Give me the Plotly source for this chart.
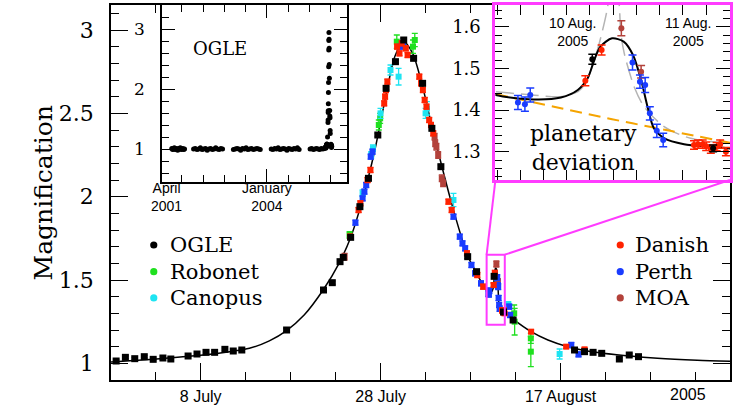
import plotly.graph_objects as go

# Time axis: HJD - 2450000 throughout.

# ---------------- model light curve (knots) ----------------
model_t = [3549.53, 3551.65, 3554.96, 3559.50, 3562.71, 3564.92, 3567.13, 3569.01,
           3571.00, 3573.11, 3574.88, 3576.20, 3577.53, 3578.86, 3580.18, 3581.07,
           3582.07, 3583.06, 3584.17, 3585.16, 3586.27, 3587.60, 3589.15, 3590.36,
           3591.29, 3591.57, 3591.85, 3591.995, 3592.08, 3592.137, 3592.19, 3592.29,
           3592.39, 3592.47, 3592.54, 3592.595, 3592.65, 3592.74, 3592.91, 3593.14,
           3593.29, 3594.23, 3596.23, 3598.10, 3600.30, 3603.64, 3606.96, 3610.28,
           3614.70, 3618.34]
model_a = [1.008, 1.015, 1.028, 1.048, 1.070, 1.090, 1.135, 1.195,
           1.290, 1.440, 1.600, 1.760, 1.990, 2.280, 2.630, 2.840,
           2.930, 2.860, 2.660, 2.430, 2.190, 1.920, 1.650, 1.520,
           1.436, 1.426, 1.430, 1.448, 1.476, 1.520, 1.552, 1.572,
           1.564, 1.532, 1.472, 1.408, 1.356, 1.332, 1.318, 1.312,
           1.308, 1.265, 1.190, 1.140, 1.100, 1.065, 1.045, 1.030,
           1.018, 1.012]

# single-lens curve without the planet (zoom panel)
nopl_t = [3591.29, 3591.79, 3592.29, 3592.79, 3593.31]
nopl_a = [1.438, 1.408, 1.378, 1.350, 1.321]

# alternative high-peak curve (zoom panel)
alt_t = [3591.29, 3591.60, 3591.85, 3592.00, 3592.05, 3592.10, 3592.17, 3592.24,
         3592.27, 3592.31, 3592.352, 3592.366, 3592.395, 3592.48, 3592.566,
         3592.738, 3592.966, 3593.31]
alt_a = [1.444, 1.436, 1.432, 1.445, 1.460, 1.490, 1.550, 1.630,
         1.680, 1.760, 1.652, 1.584, 1.536, 1.456, 1.408,
         1.360, 1.332, 1.320]

# ---------------- photometry ----------------
ogle_t = [3550.10, 3551.13, 3552.17, 3553.23, 3554.22, 3555.30, 3556.18, 3558.10,
          3559.09, 3560.09, 3561.05, 3562.19, 3563.12, 3564.07, 3569.05, 3573.15,
          3574.13, 3574.99, 3575.35, 3576.17, 3577.20, 3578.15, 3579.19, 3580.11,
          3581.15, 3582.07, 3583.17, 3584.17, 3585.20, 3586.20, 3589.18, 3590.17,
          3592.12, 3593.16, 3594.23, 3601.06, 3602.17, 3603.12, 3604.08, 3606.04,
          3607.14, 3608.17]
ogle_a = [1.014, 1.036, 1.028, 1.040, 1.024, 1.032, 1.026, 1.044,
          1.056, 1.066, 1.066, 1.084, 1.074, 1.080, 1.200, 1.440,
          1.484, 1.610, 1.636, 1.756, 1.940, 2.110, 2.370, 2.650,
          2.810, 2.940, 2.830, 2.680, 2.410, 2.180, 1.640, 1.550,
          1.522, 1.308, 1.260, 1.080, 1.070, 1.066, 1.060, 1.026,
          1.050, 1.040]
ogle_e = [0.008] * 14 + [0.010] * 18 + [0.012, 0.008] + [0.008] * 8

danish_t = [3576.10, 3577.05, 3577.25, 3578.05, 3578.37, 3579.90, 3580.00, 3580.10,
            3580.25, 3581.33, 3581.60, 3581.85, 3582.30, 3582.50, 3583.80, 3584.00,
            3584.20, 3584.40, 3584.60, 3584.90, 3585.10, 3585.35, 3587.04, 3587.40,
            3589.10, 3590.25, 3590.90, 3592.06, 3592.20, 3592.995, 3593.03, 3593.07,
            3593.10, 3593.14, 3593.19, 3593.22, 3593.27, 3596.23, 3600.13, 3602.17]
danish_a = [1.760, 1.920, 1.960, 2.100, 2.160, 2.560, 2.600, 2.640,
            2.690, 2.900, 2.860, 2.920, 2.890, 2.850, 2.720, 2.680,
            2.640, 2.580, 2.540, 2.460, 2.430, 2.380, 1.970, 1.920,
            1.660, 1.530, 1.460, 1.470, 1.544, 1.316, 1.318, 1.318,
            1.313, 1.306, 1.312, 1.318, 1.300, 1.190, 1.100, 1.084]
danish_e = [0.015] * 27 + [0.012, 0.012] + [0.010] * 8 + [0.012, 0.010, 0.010]

perth_t = [3576.70, 3577.50, 3577.70, 3577.90, 3578.40, 3578.60, 3581.70, 3582.00,
           3587.60, 3588.30, 3588.60, 3588.90, 3589.60, 3590.00, 3590.66, 3591.48,
           3591.54, 3591.586, 3592.466, 3592.53, 3592.575, 3592.615, 3592.675, 3592.73,
           3593.80, 3593.90, 3600.70, 3601.50]
perth_a = [1.844, 1.990, 2.030, 2.070, 2.240, 2.270, 2.900, 2.920,
           1.880, 1.760, 1.720, 1.690, 1.590, 1.540, 1.480, 1.418,
           1.414, 1.436, 1.514, 1.468, 1.460, 1.392, 1.350, 1.328,
           1.340, 1.290, 1.110, 1.054]
perth_e = [0.015] * 15 + [0.017, 0.017, 0.017, 0.018, 0.016, 0.018, 0.016, 0.016, 0.016] + [0.015] * 4

moa_t = [3575.50, 3585.50, 3585.57, 3585.70, 3585.90, 3586.30, 3586.45, 3592.37, 3592.54]
moa_a = [1.640, 2.360, 2.320, 2.300, 2.250, 2.110, 2.080, 1.596, 1.492]
moa_e = [0.020, 0.020, 0.020, 0.020, 0.020, 0.020, 0.020, 0.018, 0.015]

robonet_t = [3576.05, 3579.30, 3579.45, 3581.30, 3583.10, 3583.30, 3594.35, 3594.40, 3596.20, 3596.20]
robonet_a = [1.770, 2.430, 2.470, 2.930, 2.900, 2.940, 1.300, 1.250, 1.150, 1.070]
robonet_e = [0.020, 0.030, 0.030, 0.040, 0.040, 0.040, 0.050, 0.080, 0.030, 0.090]

canopus_t = [3577.50, 3578.45, 3578.65, 3579.49, 3580.60, 3581.50, 3584.50, 3584.65, 3587.60, 3593.70, 3599.40]
canopus_a = [2.020, 2.250, 2.290, 2.500, 2.760, 2.720, 2.500, 2.530, 1.980, 1.350, 1.056]
canopus_e = [0.020, 0.020, 0.020, 0.030, 0.030, 0.050, 0.030, 0.040, 0.040, 0.020, 0.030]

# OGLE baseline seasons 2001-2005
base_2001_t = [2106, 2114, 2122, 2130, 2138, 2146, 2154, 2162, 2170, 2178, 2186, 2194, 2202, 2210, 2218, 2226]
base_2001_a = [1.01, 0.99, 1.00, 1.02, 0.99, 1.01, 1.00, 0.98, 1.01, 1.00, 1.02, 0.99, 1.00, 1.01, 0.99, 1.00]
base_2002_t = [2311, 2327, 2343, 2359, 2375, 2391, 2407, 2423, 2439, 2455, 2471, 2487, 2503, 2519, 2535, 2551, 2567, 2583]
base_2002_a = [1.00, 1.01, 0.99, 1.00, 1.02, 0.99, 1.00, 1.01, 0.98, 1.00, 1.01, 0.99, 1.00, 1.02, 1.00, 0.99, 1.01, 1.00]
base_2003_t = [2685, 2702, 2719, 2736, 2753, 2770, 2787, 2804, 2821, 2838, 2855, 2872, 2889, 2906, 2923, 2937]
base_2003_a = [0.99, 1.00, 1.01, 1.00, 0.98, 1.01, 1.00, 1.02, 0.99, 1.00, 1.01, 0.99, 1.00, 1.01, 1.00, 0.99]
base_2004_t = [3040, 3056, 3072, 3089, 3105, 3122, 3138, 3155, 3171, 3188, 3204, 3221, 3237, 3254, 3270, 3286, 3302]
base_2004_a = [1.00, 0.99, 1.01, 1.00, 1.02, 0.99, 1.00, 1.01, 1.00, 0.98, 1.01, 1.00, 0.99, 1.01, 1.00, 1.02, 0.99]
base_2005_t = [3405, 3420, 3435, 3450, 3465, 3480, 3495, 3510, 3525, 3540]
base_2005_a = [1.00, 1.01, 0.99, 1.00, 1.01, 1.00, 0.99, 1.01, 1.00, 1.01]

# ---------------- axes ----------------
main_x_range = [3549.53, 3618.34]
main_y_range = [0.9, 3.15]
main_tickvals = [3559.5, 3579.5, 3599.5]
main_ticktext = ["8 July", "28 July", "17 August"]

hist_x_range = [2015, 3753]
hist_y_range = [0.45, 3.4]

zoom_x_range = [3591.286, 3593.305]
zoom_y_range = [1.232, 1.652]

hist_dom_x = [0.0825, 0.3815]
hist_dom_y = [0.528, 1.0]
zoom_dom_x = [0.621, 1.0]
zoom_dom_y = [0.5333, 1.0]

MAGENTA = "#ff3cff"
SERIF = "DejaVu Serif"
SANS = "Liberation Sans"

instruments = [
    ("Robonet", robonet_t, robonet_a, robonet_e, "#1fe01f"),
    ("Canopus", canopus_t, canopus_a, canopus_e, "#1ee4f2"),
    ("MOA", moa_t, moa_a, moa_e, "#b3423b"),
    ("Perth", perth_t, perth_a, perth_e, "#1a3cff"),
    ("Danish", danish_t, danish_a, danish_e, "#ff2200"),
    ("OGLE", ogle_t, ogle_a, ogle_e, "#000000"),
]

fig = go.Figure()

# main panel
fig.add_trace(go.Scatter(x=model_t, y=model_a, mode="lines", line=dict(color="black", width=1.5, shape="spline", smoothing=0.8),
                         xaxis="x", yaxis="y", showlegend=False, hoverinfo="skip"))
for name, t, a, e, col in instruments:
    fig.add_trace(go.Scatter(
        x=t, y=a, mode="markers", name=name, showlegend=False, xaxis="x", yaxis="y",
        marker=dict(symbol="square", size=7 if name == "OGLE" else 6, color=col, line=dict(width=0)),
        error_y=dict(type="data", array=e, visible=True, color=col, thickness=1.3, width=3)))

# long-baseline OGLE panel
for t, a in [(base_2001_t, base_2001_a), (base_2002_t, base_2002_a), (base_2003_t, base_2003_a),
             (base_2004_t, base_2004_a), (base_2005_t + ogle_t, base_2005_a + ogle_a)]:
    fig.add_trace(go.Scatter(x=t, y=a, mode="markers", xaxis="x2", yaxis="y2", showlegend=False,
                             marker=dict(symbol="circle", size=5, color="black", line=dict(width=0))))

# zoom on the planetary deviation
fig.add_trace(go.Scatter(x=alt_t, y=alt_a, mode="lines", xaxis="x3", yaxis="y3", showlegend=False,
                         line=dict(color="#b4b4b4", width=1.5, dash="18px,7px", shape="spline", smoothing=0.8)))
fig.add_trace(go.Scatter(x=nopl_t, y=nopl_a, mode="lines", xaxis="x3", yaxis="y3", showlegend=False,
                         line=dict(color="#f5a400", width=2, dash="12px,7px", shape="spline")))
fig.add_trace(go.Scatter(x=model_t, y=model_a, mode="lines", xaxis="x3", yaxis="y3", showlegend=False,
                         line=dict(color="black", width=2, shape="spline", smoothing=0.8)))
for name, t, a, e, col in instruments:
    fig.add_trace(go.Scatter(
        x=t, y=a, mode="markers", showlegend=False, xaxis="x3", yaxis="y3",
        marker=dict(symbol="circle", size=6, color=col, line=dict(width=0)),
        error_y=dict(type="data", array=e, visible=True, color=col, thickness=1.5, width=4)))


def frame(**kw):
    base = dict(showline=True, linecolor="black", linewidth=1.5, mirror="ticks", ticks="inside",
                tickcolor="black", tickwidth=1.3, showgrid=False, zeroline=False)
    base.update(kw)
    return base


fig.update_layout(
    width=733, height=416,
    margin=dict(l=111, r=0, t=5, b=36),
    paper_bgcolor="white", plot_bgcolor="white",
    font=dict(family=SERIF, color="black"),
    xaxis=frame(domain=[0, 1], range=main_x_range, anchor="y", tickvals=main_tickvals, ticktext=main_ticktext,
                ticklen=17, tickfont=dict(family=SANS, size=16, color="black"), ticklabelstandoff=1,
                minor=dict(ticklen=8, tick0=3554.5, dtick=5, ticks="inside", tickcolor="black", tickwidth=1.3)),
    yaxis=frame(domain=[0, 1], range=main_y_range, anchor="x", tickvals=[1, 1.5, 2, 2.5, 3],
                ticktext=["1", "1.5", "2", "2.5", "3"], ticklen=17,
                tickfont=dict(family=SERIF, size=22, color="black"), ticklabelstandoff=11,
                minor=dict(ticklen=8, tick0=0.9, dtick=0.1, ticks="inside", tickcolor="black", tickwidth=1.3)),
    xaxis2=frame(domain=hist_dom_x, range=hist_x_range, anchor="y2", tickvals=[3000], ticklen=13,
                 showticklabels=False,
                 minor=dict(ticklen=7, tick0=2000, dtick=200, ticks="inside", tickcolor="black", tickwidth=1.3)),
    yaxis2=frame(domain=hist_dom_y, range=hist_y_range, anchor="x2", tickvals=[1, 2, 3], ticklen=13,
                 tickfont=dict(family=SERIF, size=17, color="black"), ticklabelstandoff=12,
                 minor=dict(ticklen=7, tick0=0.2, dtick=0.2, ticks="inside", tickcolor="black", tickwidth=1.3)),
    xaxis3=frame(domain=zoom_dom_x, range=zoom_x_range, anchor="y3", tick0=3591.5, dtick=0.2, ticklen=10,
                 showticklabels=False, linecolor=MAGENTA, linewidth=3),
    yaxis3=frame(domain=zoom_dom_y, range=zoom_y_range, anchor="x3", tickvals=[1.3, 1.4, 1.5, 1.6],
                 ticktext=["1.3", "1.4", "1.5", "1.6"], ticklen=14, linecolor=MAGENTA, linewidth=3,
                 tickfont=dict(family=SERIF, size=18, color="black"), ticklabelstandoff=8,
                 minor=dict(ticklen=7, tick0=1.24, dtick=0.02, ticks="inside", tickcolor="black", tickwidth=1.3)),
)


def main_x(p):
    return main_x_range[0] + p * (main_x_range[1] - main_x_range[0])


def main_y(p):
    return main_y_range[0] + p * (main_y_range[1] - main_y_range[0])


shapes = [
    # opaque backgrounds of the two inset panels
    dict(type="rect", xref="x2", yref="y2", x0=hist_x_range[0], x1=hist_x_range[1],
         y0=hist_y_range[0], y1=hist_y_range[1], fillcolor="white", line=dict(width=0), layer="below"),
    dict(type="rect", xref="x3", yref="y3", x0=zoom_x_range[0], x1=zoom_x_range[1],
         y0=zoom_y_range[0], y1=zoom_y_range[1], fillcolor="white", line=dict(width=0), layer="below"),
    # zoom region marked on the main light curve, with connectors to the inset
    dict(type="rect", xref="x", yref="y", x0=zoom_x_range[0], x1=zoom_x_range[1],
         y0=zoom_y_range[0], y1=zoom_y_range[1], line=dict(color=MAGENTA, width=2), layer="above"),
    dict(type="line", xref="x", yref="y", x0=zoom_x_range[0], y0=zoom_y_range[1],
         x1=main_x(zoom_dom_x[0]), y1=main_y(zoom_dom_y[0]), line=dict(color=MAGENTA, width=2), layer="above"),
    dict(type="line", xref="x", yref="y", x0=zoom_x_range[1], y0=zoom_y_range[1],
         x1=main_x(zoom_dom_x[1]), y1=main_y(zoom_dom_y[0]), line=dict(color=MAGENTA, width=2), layer="above"),
]

# legend entries: two columns of coloured dots with labels
legend_left = [("OGLE", "#000000"), ("Robonet", "#1fe01f"), ("Canopus", "#1ee4f2")]
legend_right = [("Danish", "#ff2200"), ("Perth", "#1a3cff"), ("MOA", "#b3423b")]
legend_rows = [0.360, 0.289, 0.219]

annotations = []
for entries, dot_x, text_x in [(legend_left, 0.0691, 0.0916), (legend_right, 0.8227, 0.8441)]:
    for (label, col), yy in zip(entries, legend_rows):
        shapes.append(dict(type="circle", xref="paper", yref="paper", xsizemode="pixel", ysizemode="pixel",
                           xanchor=dot_x, yanchor=yy, x0=-3.6, x1=3.6, y0=-3.6, y1=3.6,
                           fillcolor=col, line=dict(width=0), layer="above"))
        annotations.append(dict(xref="paper", yref="paper", x=text_x, y=yy, text=label, showarrow=False,
                                xanchor="left", yanchor="middle", font=dict(family=SERIF, size=21, color="black")))

annotations += [
    dict(xref="paper", yref="paper", x=-0.135, y=0.5, text="Magnification", textangle=-90, showarrow=False,
         font=dict(family=SERIF, size=25, color="black")),
    dict(xref="paper", yref="paper", x=0.9646, y=-0.0667, text="2005", showarrow=False,
         font=dict(family=SANS, size=16, color="black")),
    dict(xref="x2", yref="y2", x=2563, y=2.68, text="OGLE", showarrow=False,
         font=dict(family=SERIF, size=18, color="black")),
    dict(xref="x2", yref="paper", x=2059, y=0.487, text="April<br>2001", showarrow=False,
         font=dict(family=SANS, size=14, color="black")),
    dict(xref="x2", yref="paper", x=3000, y=0.487, text="January<br>2004", showarrow=False,
         font=dict(family=SANS, size=14, color="black")),
    dict(xref="x3", yref="y3", x=3591.952, y=1.588, text="10 Aug.<br>2005", showarrow=False,
         font=dict(family=SANS, size=14, color="black")),
    dict(xref="x3", yref="y3", x=3592.94, y=1.588, text="11 Aug.<br>2005", showarrow=False,
         font=dict(family=SANS, size=14, color="black")),
    dict(xref="x3", yref="y3", x=3592.04, y=1.309, text="planetary<br>deviation", showarrow=False,
         font=dict(family=SERIF, size=22, color="black")),
]

fig.update_layout(shapes=shapes, annotations=annotations)
fig.write_html("out.html")
